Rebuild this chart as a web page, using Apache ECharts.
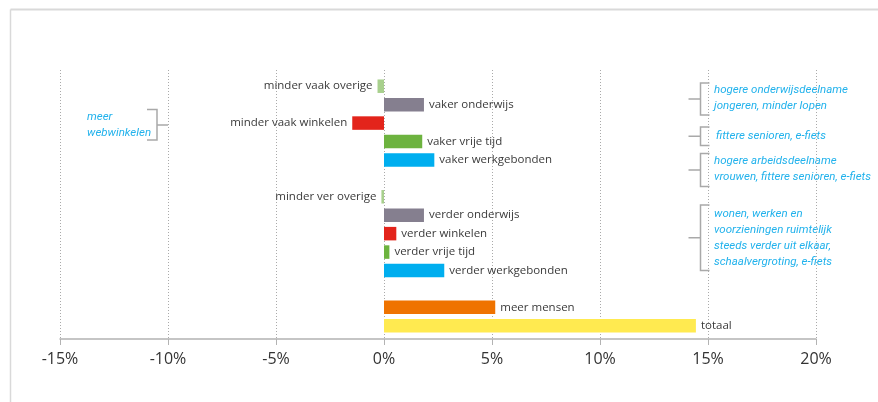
<!DOCTYPE html>
<html>
<head>
<meta charset="utf-8">
<script src="https://cdn.jsdelivr.net/npm/echarts@6/dist/echarts.min.js"></script>
<style>
  html, body { margin: 0; padding: 0; background: #fff; }
  #chart { width: 878px; height: 402px; }
</style>
</head>
<body>
<div id="chart"></div>
<script>
// categorieen (van boven naar beneden), lege regels zijn tussenruimte
var categories = [
  'minder vaak overige', 'vaker onderwijs', 'minder vaak winkelen', 'vaker vrije tijd', 'vaker werkgebonden',
  ' ',
  'minder ver overige', 'verder onderwijs', 'verder winkelen', 'verder vrije tijd', 'verder werkgebonden',
  '  ',
  'meer mensen', 'totaal'
];
// bijdrage in procent
var values = [-0.3, 1.85, -1.47, 1.77, 2.33, null, -0.12, 1.85, 0.57, 0.25, 2.79, null, 5.15, 14.44];
var barColors = [
  '#a8d08d', '#857f8f', '#e3241b', '#6db33f', '#00aeef',
  null,
  '#a8d08d', '#857f8f', '#e3241b', '#6db33f', '#00aeef',
  null,
  '#ef7300', '#ffea50'
];
var xTicks = [-15, -10, -5, 0, 5, 10, 15, 20];

var blue = '#22b2ec';
var bracketGray = '#a9a9a9';

// bar data
var barData = values.map(function (v, i) {
  if (v === null) return null;
  return {
    value: v,
    itemStyle: { color: barColors[i] },
    label: { position: v < 0 ? 'left' : 'right' }
  };
});

// haakje rechts (opent naar rechts)
function bracketRight(x, y1, y2) {
  var mid = (y1 + y2) / 2;
  return [
    { type: 'polyline', shape: { points: [[x + 9, y1], [x, y1], [x, y2], [x + 9, y2]] },
      style: { stroke: bracketGray, lineWidth: 1.5, fill: null } },
    { type: 'line', shape: { x1: x - 12, y1: mid, x2: x, y2: mid },
      style: { stroke: bracketGray, lineWidth: 1.5 } }
  ];
}
function note(x, y, txt) {
  return {
    type: 'text', x: x, y: y,
    style: {
      text: txt, fill: blue, font: 'italic 11.5px Roboto',
      lineHeight: 16, textVerticalAlign: 'top'
    }
  };
}

var graphics = [
  // kader
  { type: 'line', shape: { x1: 10.5, y1: 9.5, x2: 878, y2: 9.5 }, style: { stroke: '#d9d9d9', lineWidth: 2 } },
  { type: 'line', shape: { x1: 10.5, y1: 9.5, x2: 10.5, y2: 402 }, style: { stroke: '#d9d9d9', lineWidth: 1.5 } },
  // links: meer webwinkelen
  { type: 'polyline', shape: { points: [[147, 109.5], [157, 109.5], [157, 140], [147, 140]] },
    style: { stroke: bracketGray, lineWidth: 1.5, fill: null } },
  { type: 'line', shape: { x1: 157, y1: 125, x2: 168, y2: 125 }, style: { stroke: bracketGray, lineWidth: 1.5 } },
  note(87, 109, 'meer\nwebwinkelen'),
  note(714, 82, 'hogere onderwijsdeelname\njongeren, minder lopen'),
  note(716, 128.5, 'fittere senioren, e-fiets'),
  note(714, 153.5, 'hogere arbeidsdeelname\nvrouwen, fittere senioren, e-fiets'),
  note(714, 206, 'wonen, werken en\nvoorzieningen ruimtelijk\nsteeds verder uit elkaar,\nschaalvergroting, e-fiets')
]
  .concat(bracketRight(700.5, 83, 115))
  .concat(bracketRight(700.5, 127, 145.5))
  .concat(bracketRight(700.5, 153.5, 186.5))
  .concat(bracketRight(700.5, 205, 270.5));

var myChart = echarts.init(document.getElementById('chart'));
var option = {
  animation: false,
  textStyle: { fontFamily: 'Open Sans' },
  grid: [
    { left: 60, right: 62, top: 70, bottom: 63 },
    { left: 60, right: 62, top: 77, bottom: 67 }
  ],
  xAxis: [
    {
      gridIndex: 0, type: 'value', min: -15, max: 20, interval: 5,
      axisLine: { show: true, lineStyle: { color: '#b3b3b3', width: 1.5 } },
      axisTick: { show: true, length: 6, lineStyle: { color: '#b3b3b3', width: 1 } },
      axisLabel: {
        color: '#333', fontSize: 16, margin: 12,
        formatter: function (v) { return xTicks.indexOf(v) >= 0 ? v + '%' : ''; }
      },
      splitLine: { show: true, lineStyle: { color: '#aaaaaa', type: [1, 2], width: 1 } }
    },
    {
      gridIndex: 1, type: 'value', min: -15, max: 20, interval: 5,
      show: false, splitLine: { show: false }
    }
  ],
  yAxis: [
    { gridIndex: 0, type: 'value', show: false, splitLine: { show: false } },
    {
      gridIndex: 1, type: 'category', data: categories, inverse: true, show: false,
      axisTick: { show: false }, axisLine: { show: false }
    }
  ],
  series: [
    {
      type: 'bar', xAxisIndex: 1, yAxisIndex: 1,
      barWidth: 13.5,
      data: barData,
      label: {
        show: true, formatter: '{b}', color: '#3a3a3a', fontSize: 11.5, distance: 5
      }
    }
  ],
  graphic: graphics
};
myChart.setOption(option);
</script>
</body>
</html>
